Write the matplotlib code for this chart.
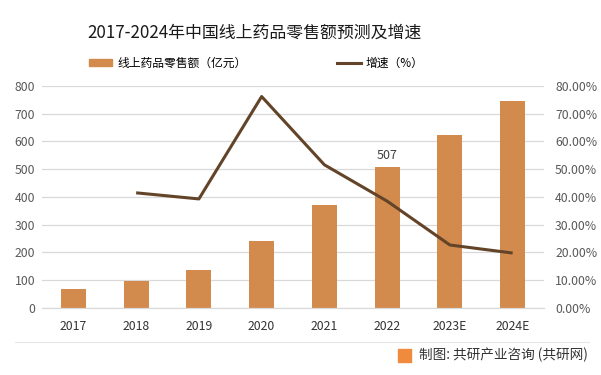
import matplotlib
matplotlib.use("Agg")
import matplotlib.pyplot as plt
from matplotlib.patches import Patch
from matplotlib.lines import Line2D

plt.rcParams['font.family'] = ['Noto Sans CJK SC', 'DejaVu Sans']

years = ["2017", "2018", "2019", "2020", "2021", "2022", "2023E", "2024E"]
sales = [68, 97, 138, 243, 370, 507, 623, 746]
growth_years = ["2018", "2019", "2020", "2021", "2022", "2023E", "2024E"]
growth = [41.5, 39.3, 76.2, 51.6, 38.5, 22.7, 19.8]

bar_color = "#D38B4D"
line_color = "#634429"
grid_color = "#D9D9D9"
tick_color = "#595959"

fig = plt.figure(figsize=(6.01, 3.75), dpi=100, facecolor="white")
ax1 = fig.add_axes([0.0699, 0.1787, 0.8353, 0.592])
ax2 = ax1.twinx()

x = list(range(len(years)))
ax1.bar(x, sales, width=0.4, color=bar_color, zorder=2)
gx = [years.index(y) for y in growth_years]
ax2.plot(gx, growth, color=line_color, linewidth=2.2, solid_capstyle="butt", zorder=3)

ax1.annotate("507", (years.index("2022"), 507), xytext=(0, 4), textcoords="offset points",
             ha="center", va="bottom", fontsize=9, color="#404040")

ax1.set_xlim(-0.5, 7.5)
ax1.set_ylim(0, 800)
ax1.set_yticks(range(0, 801, 100))
ax2.set_ylim(0, 80)
ax2.set_yticks(range(0, 81, 10))
ax2.set_yticklabels([f"{v:.2f}%" for v in range(0, 81, 10)])
ax1.set_xticks(x)
ax1.set_xticklabels(years)

ax1.grid(axis="y", color=grid_color, linewidth=0.9, zorder=0)
ax1.set_axisbelow(True)
for ax in (ax1, ax2):
    for s in ("top", "left", "right"):
        ax.spines[s].set_visible(False)
    ax.spines["bottom"].set_color(grid_color)
    ax.tick_params(length=0, labelsize=8.8, colors=tick_color)
ax1.tick_params(axis="x", colors="#333333", pad=9)
ax1.tick_params(axis="y", pad=5)
ax2.tick_params(axis="y", pad=8)

fig.text(0.423, 0.913, "2017-2024年中国线上药品零售额预测及增速", ha="center", va="center",
         fontsize=12.2, color="#1a1a1a")

handles = [Patch(color=bar_color), Line2D([0], [0], color=line_color, linewidth=2.2)]
fig.legend(handles, ["线上药品零售额（亿元）", "增速（%）"], loc="center", ncol=2,
           bbox_to_anchor=(0.426, 0.831), frameon=False, fontsize=8.5,
           handlelength=2.0, handleheight=0.6, columnspacing=7.7, handletextpad=0.4)

# bottom rule and credit
fig.add_artist(Line2D([0.025, 0.98], [0.088, 0.088], color="#E6E6E6", linewidth=0.8))
fig.add_artist(plt.Rectangle((0.663, 0.036), 0.021, 0.034, color="#F08A3C"))
fig.text(0.698, 0.053, "制图: 共研产业咨询 (共研网)", ha="left", va="center",
         fontsize=9.8, color="#333333")

fig.savefig("out.png", dpi=100)
